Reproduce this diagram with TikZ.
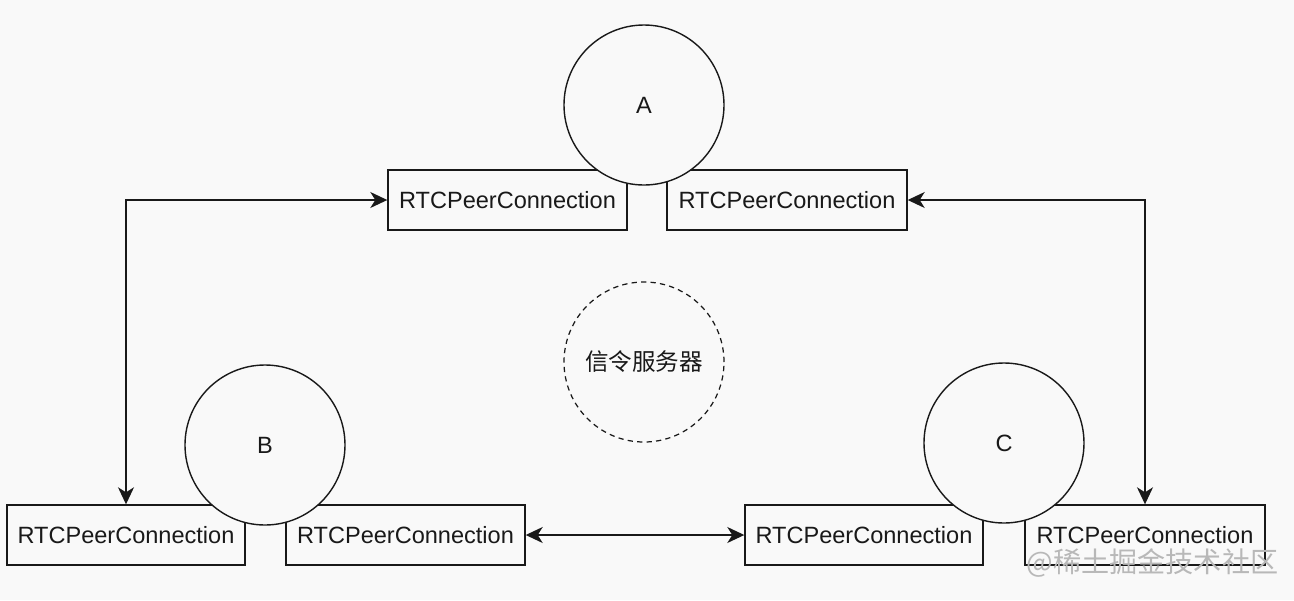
\documentclass[tikz,border=0pt]{standalone}
\usepackage{fontspec}
\setmainfont{Liberation Sans}
\newfontfamily\cjk{Noto Sans CJK SC}
\usepackage{xcolor}
\usetikzlibrary{arrows.meta}
\definecolor{paper}{RGB}{249,249,249}
\definecolor{inkline}{RGB}{25,25,25}

\begin{document}
\begin{tikzpicture}[>={Stealth[length=3.4mm, width=3.2mm, inset=1mm]}, line width=0.8pt,
  every node/.style={font=\fontsize{13.4}{16}\selectfont, text=inkline},
  pcbox/.style={draw=inkline, rectangle, minimum height=1.2cm, inner sep=0pt},
  peer/.style={draw=inkline, circle, fill=paper, minimum size=3.2cm, inner sep=0pt},
  server/.style={peer, dash pattern=on 3pt off 2.4pt, line width=0.7pt}]
  \fill[paper] (0,0) rectangle (25.88,-12);
  \useasboundingbox (0,0) rectangle (25.88,-12);
  % connection boxes
  \node[pcbox, minimum width=4.78cm] (aLeft) at (10.15,-4.0) {RTCPeerConnection};
  \node[pcbox, minimum width=4.8cm] (aRight) at (15.74,-4.0) {RTCPeerConnection};
  \node[pcbox, minimum width=4.76cm] (bLeft) at (2.52,-10.7) {RTCPeerConnection};
  \node[pcbox, minimum width=4.78cm] (bRight) at (8.11,-10.7) {RTCPeerConnection};
  \node[pcbox, minimum width=4.76cm] (cLeft) at (17.28,-10.7) {RTCPeerConnection};
  \node[pcbox, minimum width=4.8cm] (cRight) at (22.9,-10.7) {RTCPeerConnection};
  % peers
  \node[peer] (peerA) at (12.88,-2.1) {A};
  \node[peer] (peerB) at (5.3,-8.9) {B};
  \node[peer] (peerC) at (20.08,-8.86) {C};
  \node[server] (signal) at (12.88,-7.24) {\cjk 信令服务器};
  % links
  \draw[<->, inkline] (aLeft.west) -| (bLeft.north);
  \draw[<->, inkline] (aRight.east) -| (cRight.north);
  \draw[<->, inkline] (bRight.east) -- (cLeft.west);
  \node[font=\fontsize{16}{18}\selectfont\cjk, text=black!28] (mark) at (23.05,-11.25) {@稀土掘金技术社区};
\end{tikzpicture}
\end{document}
